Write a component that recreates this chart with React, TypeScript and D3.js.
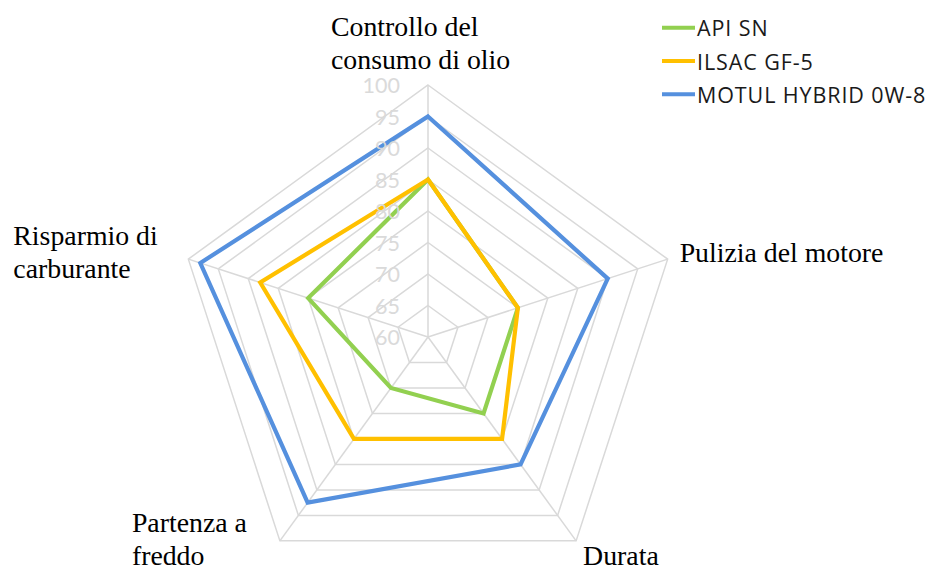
import React from "react";
import * as d3 from "d3";

const categories = [
  ["Controllo del", "consumo di olio"],
  ["Pulizia del motore"],
  ["Durata"],
  ["Partenza a", "freddo"],
  ["Risparmio di", "carburante"],
];
const apiSN = [85, 75, 75, 70, 80];
const ilsacGF5 = [85, 75, 80, 80, 88];
const motulHybrid = [95, 90, 85, 92.5, 98];
const seriesNames = ["API SN", "ILSAC GF-5", "MOTUL HYBRID 0W-8"];
const seriesColors = ["#92D050", "#FFC000", "#5590DE"];
const tickValues = [60, 65, 70, 75, 80, 85, 90, 95, 100];

const W = 934;
const H = 569;
const cx = 428;
const cy = 337;
const R = 252;

// label text start offsets relative to each outer vertex
const labelOffsets: [number, number, string][] = [
  [-97, -49, "start"],
  [12, 3, "start"],
  [7, 24, "start"],
  [-148, -9, "start"],
  [-175, -14, "start"],
];

export default function App() {
  const r = d3.scaleLinear().domain([60, 100]).range([0, R]);
  const n = categories.length;
  const angle = (i: number) => -Math.PI / 2 + (i * 2 * Math.PI) / n;
  const pt = (i: number, v: number): [number, number] => [
    cx + r(v) * Math.cos(angle(i)),
    cy + r(v) * Math.sin(angle(i)),
  ];
  const line = d3.line<[number, number]>().curve(d3.curveLinearClosed);
  const allSeries = [apiSN, ilsacGF5, motulHybrid];

  return (
    <svg
      width={W}
      height={H}
      style={{ position: "absolute", left: 0, top: 0, background: "#fff" }}
    >
      <g>
        {tickValues.slice(1).map((t) => (
          <path
            key={t}
            d={line(categories.map((_, i) => pt(i, t))) || ""}
            fill="none"
            stroke="#d9d9d9"
            strokeWidth={1.5}
          />
        ))}
        {categories.map((_, i) => {
          const [x, y] = pt(i, 100);
          return (
            <line key={i} x1={cx} y1={cy} x2={x} y2={y} stroke="#d9d9d9" strokeWidth={1.5} />
          );
        })}
      </g>
      <g>
        {allSeries.map((s, si) => (
          <path
            key={si}
            d={line(s.map((v, i) => pt(i, v))) || ""}
            fill="none"
            stroke={seriesColors[si]}
            strokeWidth={4.2}
            strokeLinejoin="miter"
          />
        ))}
      </g>
      <g fontFamily="Lato, 'Open Sans', sans-serif" fontSize={21.5} fill="#d9d9d9" opacity={0.95}>
        {tickValues.map((t) => (
          <text key={t} x={400} y={cy - r(t)} textAnchor="end" dominantBaseline="central">
            {t}
          </text>
        ))}
      </g>
      <g fontFamily="'Liberation Serif', 'Times New Roman', serif" fontSize={27.8} fill="#000">
        {categories.map((lines, i) => {
          const [vx, vy] = pt(i, 100);
          const [dx, dy, anchor] = labelOffsets[i];
          return (
            <text key={i} x={vx + dx} y={vy + dy} textAnchor={anchor}>
              {lines.map((l, li) => (
                <tspan key={li} x={vx + dx} dy={li === 0 ? 0 : 33}>
                  {l}
                </tspan>
              ))}
            </text>
          );
        })}
      </g>
      <g
        fontFamily="'Open Sans', Lato, sans-serif"
        fontSize={21.5}
        letterSpacing={0.9}
        fill="#1a1a1a"
      >
        {seriesNames.map((name, i) => {
          const y = 27.7 + i * 33.3;
          return (
            <g key={name}>
              <line x1={662} x2={695} y1={y} y2={y} stroke={seriesColors[i]} strokeWidth={4} />
              <text x={697} y={y} dominantBaseline="central">
                {name}
              </text>
            </g>
          );
        })}
      </g>
    </svg>
  );
}
